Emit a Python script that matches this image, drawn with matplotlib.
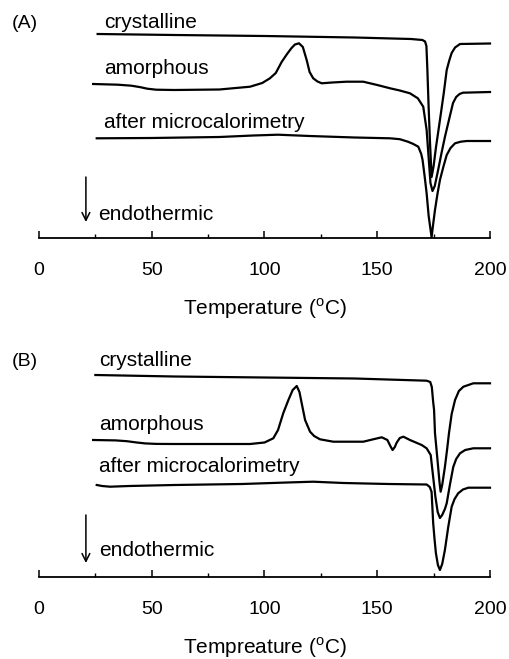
import matplotlib
matplotlib.use("Agg")
import matplotlib.pyplot as plt
from matplotlib.ticker import MultipleLocator

plt.rcParams['font.family'] = ['Liberation Sans', 'DejaVu Sans']

# DSC traces: temperature (C) and height above the baseline axis (arb. units)
# ---- panel (A)
a_cryst_t = [26, 60, 100, 140, 165, 170, 171.2, 171.8, 172.2, 172.8, 173.4, 174.1,
             175, 176, 177.8, 179.5, 180.8, 182, 183, 184.5, 186.7, 200]
a_cryst_h = [204, 203, 202, 200.5, 199, 198, 196.5, 192, 170, 130, 95, 61,
             72, 90, 118, 145, 168, 178, 185, 190.5, 194, 194.5]

a_amor_t = [24, 35, 41, 45, 48, 52, 60, 80, 93.6, 99, 102.4, 105, 107.6, 110, 112, 113.5, 115.3,
            117, 118.7, 120, 121.6, 123.5, 125.4, 130, 136.4, 143.8, 150, 155.7, 160,
            164.5, 168, 170.4, 171.9, 172.8, 173.6, 174.5, 175.5, 177, 178.5, 180, 182,
            183.6, 185, 186.5, 188, 200]
a_amor_h = [154, 153.3, 152.3, 150.8, 149.3, 148.3, 148, 148.5, 151.3, 155, 159.7, 165, 176, 184, 190, 193.5, 194.7,
            191, 178, 166, 159.7, 156.5, 154.7, 155.5, 156.3, 156.3, 153, 149.7, 147.5,
            144.7, 139.7, 131.3, 108, 80, 55, 47, 52, 68, 85, 101, 120,
            135, 141, 144, 145.3, 146]

a_micro_t = [25.6, 50, 80, 95, 106, 120, 140, 155.7, 160, 163.6, 166, 168.2, 169.5, 170.1,
             171, 171.9, 172.8, 174.1, 174.8, 175.6, 176.7, 177.8, 179.3, 180.8, 182.5,
             184.5, 187, 189.7, 200]
a_micro_h = [99.7, 100, 101, 102.5, 103.3, 102, 100.5, 99.7, 98.8, 96.3, 94, 91.3, 84, 78,
             62, 44.7, 22, 0.7, 14, 28, 44, 58, 71, 83, 90,
             94.7, 96.3, 97, 97]

# ---- panel (B)
b_cryst_t = [25, 60, 100, 140, 171.9, 173.5, 174.2, 174.8, 175.2, 175.6, 176.3, 177, 177.6,
             178.1, 178.8, 180, 181, 181.8, 183, 184.5, 186.2, 188.2, 192.6, 200]
b_cryst_h = [202, 200.5, 199.5, 198.5, 196.3, 195, 190, 175, 167, 144, 127, 110, 95,
             85.3, 92, 110, 128, 143.7, 163, 177, 186, 190.3, 193.7, 193.7]

b_amor_t = [24, 34, 39, 43, 47, 52, 60, 93.6, 100, 103.9, 106, 108.3, 110.6, 112.5, 114.3, 115.5, 116.5,
            118, 120.2, 122, 124.6, 130.5, 143.8, 148.2, 152, 154.5, 155.8, 156.8, 157.8,
            158.6, 160, 161.6, 164.5, 169.7, 171.9, 173.7, 174.8, 175.8, 176.8, 177.8,
            178.8, 180, 180.8, 182.2, 183.7, 185, 186.7, 189, 192.6, 200]
b_amor_h = [137, 136.6, 135.8, 134.6, 133.6, 133.1, 133, 133, 134.5, 138.7, 147, 163.7, 177, 187, 191, 185, 173.7,
            157, 145.3, 141, 137.7, 135.3, 135.3, 137.7, 139.7, 137, 131, 127, 130,
            134.3, 139, 140.3, 137, 132, 128.7, 122, 100, 80, 65, 59,
            62, 68, 73.7, 92, 110, 118, 123.7, 127, 128.7, 128.7]

b_micro_t = [25.6, 28, 31.5, 40, 60, 90, 110, 121.6, 135, 155, 171.9, 173.3, 174.1, 174.8,
             175.4, 176, 176.9, 177.8, 178.8, 180, 181.5, 183, 184.3, 185.9, 188, 190.4, 200]
b_micro_h = [92, 91, 90.3, 91, 92, 93, 94.5, 95.3, 94, 93, 92.5, 90, 85, 54,
             38, 24, 12, 7, 13, 27, 50.3, 70.3, 78, 83.7, 87.5, 89.3, 89.3]

curve_names = ['crystalline', 'amorphous', 'after microcalorimetry']

panels = [
    dict(tag='(A)', bottom=1 - 238 / 659, xlabel='Temperature ($^\\mathregular{o}$C)',
         curves=[(a_cryst_t, a_cryst_h), (a_amor_t, a_amor_h), (a_micro_t, a_micro_h)],
         label_x=29, label_y=[216, 170, 115], endo=(26, 23), arrow=(20.8, 61, 16)),
    dict(tag='(B)', bottom=1 - 577 / 659, xlabel='Tempreature ($^\\mathregular{o}$C)',
         curves=[(b_cryst_t, b_cryst_h), (b_amor_t, b_amor_h), (b_micro_t, b_micro_h)],
         label_x=26.6, label_y=[216, 152, 110], endo=(26.6, 27), arrow=(20.8, 62, 14)),
]

fig = plt.figure(figsize=(5.10, 6.59), dpi=100)

for p in panels:
    ax = fig.add_axes([39 / 510, p['bottom'], 451 / 510, 230 / 659])
    for t, h in p['curves']:
        ax.plot(t, h, color='black', lw=1.6, clip_on=False, solid_joinstyle='round')
    ax.set_xlim(0, 200)
    ax.set_ylim(0, 230)
    for s in ['top', 'left', 'right']:
        ax.spines[s].set_visible(False)
    ax.spines['bottom'].set_linewidth(1.3)
    ax.set_yticks([])
    ax.xaxis.set_major_locator(MultipleLocator(50))
    ax.xaxis.set_minor_locator(MultipleLocator(25))
    ax.tick_params(axis='x', which='major', direction='in', length=5, width=1.1,
                   pad=17, labelsize=14)
    ax.tick_params(axis='x', which='minor', direction='in', length=3, width=1.0)
    ax.set_xlabel(p['xlabel'], fontsize=15, labelpad=13)

    for name, y in zip(curve_names, p['label_y']):
        ax.text(p['label_x'], y, name, fontsize=15, va='center', ha='left')
    ax.text(p['endo'][0], p['endo'][1], 'endothermic', fontsize=15, va='center', ha='left')
    ax_x, y0, y1 = p['arrow']
    ax.annotate('', xy=(ax_x, y1), xytext=(ax_x, y0),
                arrowprops=dict(arrowstyle='->', color='black', lw=1.1,
                                shrinkA=0, shrinkB=0, mutation_scale=14))
    ax.text(-12, 215, p['tag'], fontsize=14, va='center', ha='left')

fig.savefig('out.png', dpi=100)
